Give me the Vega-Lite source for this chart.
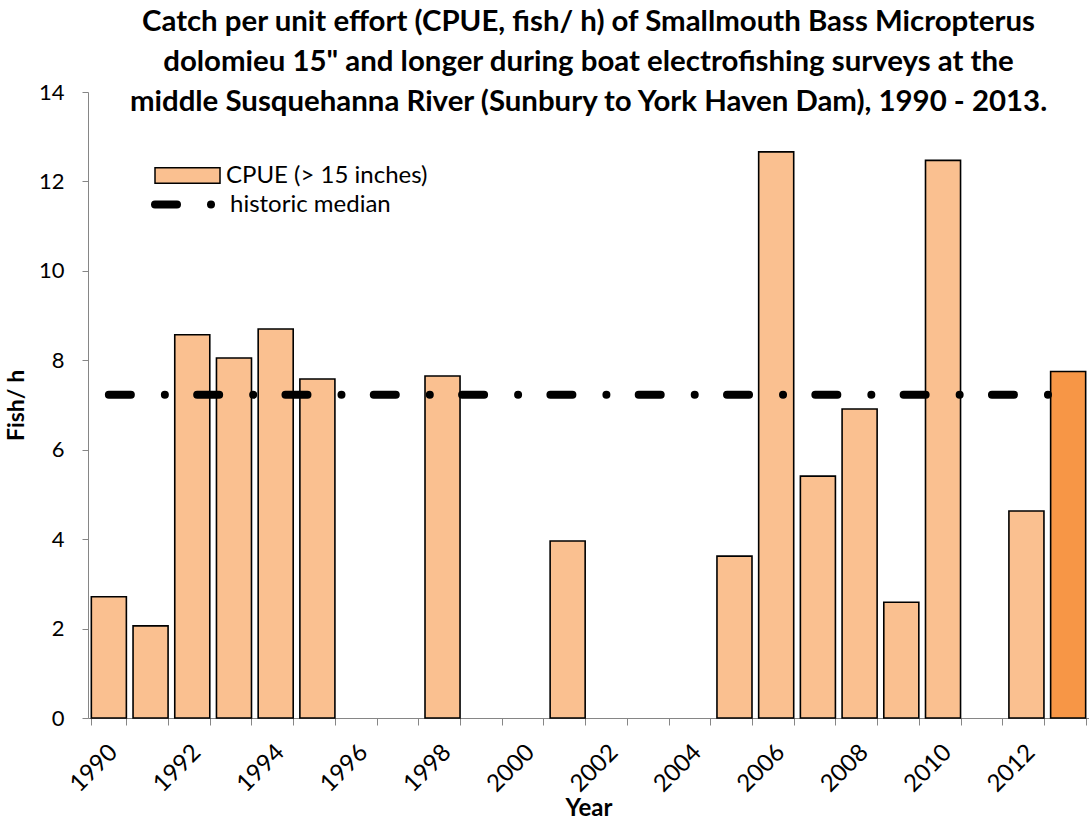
{
  "$schema": "https://vega.github.io/schema/vega-lite/v6.json",
  "width": 1001,
  "height": 626,
  "autosize": {"type": "none"},
  "padding": {"left": 88, "top": 92, "right": 0, "bottom": 104},
  "background": "white",
  "config": {
    "font": "Lato",
    "view": {"stroke": null},
    "axis": {"labelFont": "Lato", "titleFont": "Lato", "labelColor": "black", "titleColor": "black", "domainColor": "#868686", "tickColor": "#868686", "grid": false}
  },
  "title": {
    "text": ["Catch per unit effort (CPUE, fish/ h) of Smallmouth Bass Micropterus", "dolomieu 15\" and longer during boat electrofishing surveys at the", "middle Susquehanna River (Sunbury to York Haven Dam), 1990 - 2013."],
    "font": "Lato",
    "fontSize": 29.4,
    "fontWeight": "bold",
    "lineHeight": 40,
    "anchor": "middle",
    "frame": "group",
    "offset": -36,
    "color": "black"
  },
  "datasets": {
    "cpue": [
      {"year": "1990", "cpue": 2.71, "series": "CPUE (> 15 inches)"},
      {"year": "1991", "cpue": 2.06, "series": "CPUE (> 15 inches)"},
      {"year": "1992", "cpue": 8.57, "series": "CPUE (> 15 inches)"},
      {"year": "1993", "cpue": 8.05, "series": "CPUE (> 15 inches)"},
      {"year": "1994", "cpue": 8.70, "series": "CPUE (> 15 inches)"},
      {"year": "1995", "cpue": 7.58, "series": "CPUE (> 15 inches)"},
      {"year": "1998", "cpue": 7.65, "series": "CPUE (> 15 inches)"},
      {"year": "2001", "cpue": 3.96, "series": "CPUE (> 15 inches)"},
      {"year": "2005", "cpue": 3.62, "series": "CPUE (> 15 inches)"},
      {"year": "2006", "cpue": 12.66, "series": "CPUE (> 15 inches)"},
      {"year": "2007", "cpue": 5.41, "series": "CPUE (> 15 inches)"},
      {"year": "2008", "cpue": 6.91, "series": "CPUE (> 15 inches)"},
      {"year": "2009", "cpue": 2.59, "series": "CPUE (> 15 inches)"},
      {"year": "2010", "cpue": 12.47, "series": "CPUE (> 15 inches)"},
      {"year": "2012", "cpue": 4.63, "series": "CPUE (> 15 inches)"},
      {"year": "2013", "cpue": 7.75, "series": "CPUE 2013"}
    ],
    "median": [
      {"label": "historic median", "start": "1990", "end": "2013", "median": 7.23}
    ]
  },
  "layer": [
    {
      "data": {"name": "cpue"},
      "mark": {"type": "bar", "stroke": "black", "strokeWidth": 1.6},
      "encoding": {
        "x": {
          "field": "year",
          "type": "ordinal",
          "scale": {
            "domain": ["1990","1991","1992","1993","1994","1995","1996","1997","1998","1999","2000","2001","2002","2003","2004","2005","2006","2007","2008","2009","2010","2011","2012","2013"],
            "paddingInner": 0.16,
            "paddingOuter": 0.08
          },
          "axis": {
            "title": "Year",
            "titleFontSize": 24,
            "titleFontWeight": "bold",
            "titlePadding": 0,
            "labelAngle": -45,
            "labelFontSize": 24,
            "labelPadding": 15,
            "labelOffset": -4,
            "tickBand": "extent",
            "tickSize": 7,
            "labelExpr": "toNumber(datum.value) % 2 == 0 ? datum.value : ''"
          }
        },
        "y": {
          "field": "cpue",
          "type": "quantitative",
          "scale": {"domain": [0, 14]},
          "axis": {
            "title": "Fish/ h",
            "titleFontSize": 23,
            "titleFontWeight": "bold",
            "titlePadding": 10,
            "values": [0, 2, 4, 6, 8, 10, 12, 14],
            "labelFontSize": 22,
            "labelPadding": 18,
            "tickSize": 6
          }
        },
        "fill": {
          "field": "series",
          "type": "nominal",
          "scale": {"domain": ["CPUE (> 15 inches)", "CPUE 2013"], "range": ["#FAC090", "#F79646"]},
          "legend": {
            "title": null,
            "values": ["CPUE (> 15 inches)"],
            "orient": "none",
            "legendX": 66,
            "legendY": 50,
            "padding": 0,
            "symbolType": "M-1,-0.24H1V0.24H-1Z",
            "symbolSize": 4225,
            "symbolStrokeColor": "black",
            "symbolStrokeWidth": 1.5,
            "labelFontSize": 24,
            "labelFont": "Lato",
            "labelColor": "black",
            "labelOffset": 5,
            "labelLimit": 400
          }
        }
      }
    },
    {
      "data": {"name": "median"},
      "mark": {"type": "rule", "stroke": "black", "strokeWidth": 8, "strokeCap": "round"},
      "encoding": {
        "x": {"field": "start", "type": "ordinal"},
        "x2": {"field": "end"},
        "y": {"field": "median", "type": "quantitative"},
        "strokeDash": {
          "field": "label",
          "type": "nominal",
          "scale": {"domain": ["historic median"], "range": [[22, 34, 0.01, 32.3]]},
          "legend": {
            "title": null,
            "orient": "none",
            "legendX": 63,
            "legendY": 76,
            "padding": 0,
            "symbolType": "stroke",
            "symbolSize": 4225,
            "symbolStrokeColor": "black",
            "symbolStrokeWidth": 8,
            "labelFontSize": 24,
            "labelFont": "Lato",
            "labelColor": "black",
            "labelOffset": 6,
            "labelLimit": 400,
            "encode": {"symbols": {"update": {"strokeCap": {"value": "round"}}}}
          }
        }
      }
    }
  ]
}
